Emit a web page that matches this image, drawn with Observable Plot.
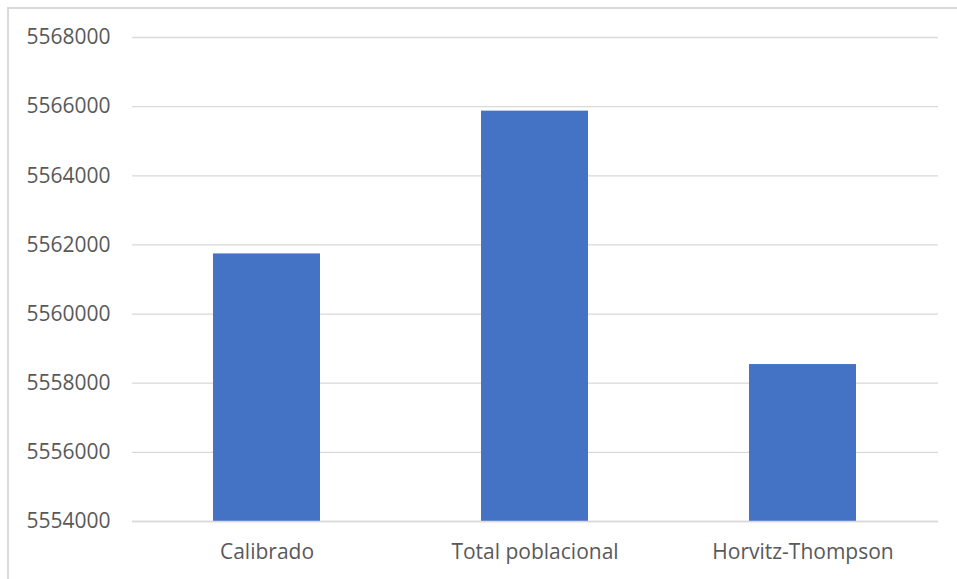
<!DOCTYPE html>
<html>
<head>
<meta charset="utf-8">
<script src="https://cdn.jsdelivr.net/npm/d3@7"></script>
<script src="https://cdn.jsdelivr.net/npm/@observablehq/plot@0.6"></script>
<style>
  html, body { margin: 0; padding: 0; background: #fff; }
  #wrap { position: relative; width: 957px; height: 579px; overflow: hidden; }
  #frame { position: absolute; left: 7px; top: 7px; width: 2000px; height: 2000px;
           border-left: 2px solid #d9d9d9; border-top: 2px solid #d9d9d9; box-sizing: border-box; }
  #chart { position: absolute; left: 0; top: 0; }
</style>
</head>
<body>
<div id="wrap"><div id="frame"></div><div id="chart"></div></div>
<script>
const categories = ["Calibrado", "Total poblacional", "Horvitz-Thompson"];
const values = [5561740, 5565870, 5558540];
const yTicks = [5554000, 5556000, 5558000, 5560000, 5562000, 5564000, 5566000, 5568000];
const yMin = 5554000, yMax = 5568000;

const data = categories.map((c, i) => ({category: c, value: values[i]}));

const chart = Plot.plot({
  width: 957,
  height: 579,
  marginLeft: 132,
  marginRight: 19,
  marginTop: 37,
  marginBottom: 58,
  style: {fontFamily: "'Open Sans', sans-serif", fontSize: "21px", color: "#595959", background: "transparent"},
  x: {domain: categories, paddingInner: 0.6, paddingOuter: 0.3, label: null},
  y: {domain: [yMin, yMax], label: null},
  marks: [
    Plot.ruleY(yTicks, {stroke: "#d9d9d9", strokeWidth: 1.3}),
    Plot.barY(data, {x: "category", y1: yMin, y2: "value", fill: "#4472c4"}),
    Plot.ruleY([yMin], {stroke: "#d9d9d9", strokeWidth: 1.5}),
    Plot.axisY({ticks: yTicks, tickFormat: d3.format("d"), tickSize: 0, tickPadding: 22, fill: "#595959", fontSize: 21, label: null}),
    Plot.axisX({tickSize: 0, tickPadding: 23, fill: "#595959", fontSize: 21, label: null})
  ]
});
document.getElementById("chart").appendChild(chart);
</script>
</body>
</html>
